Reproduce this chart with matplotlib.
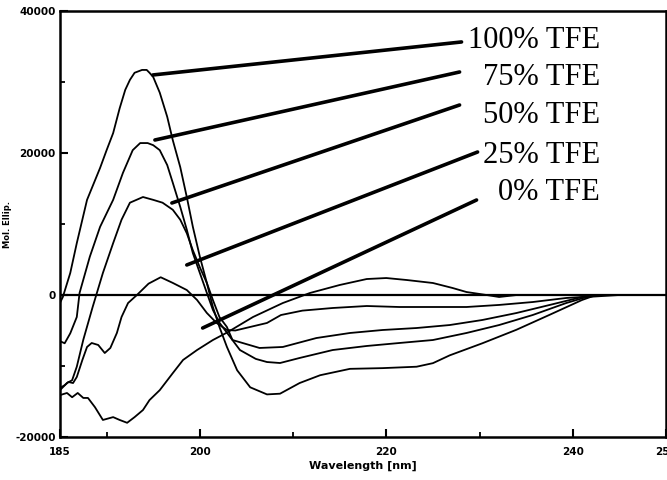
import numpy as np
import matplotlib
matplotlib.use('Agg')
import matplotlib.pyplot as plt
from matplotlib.ticker import FixedLocator

# CD spectra (wavelength in nm, ellipticity)
wl_100 = [185.0, 185.3, 186.1, 186.8, 187.9, 189.3, 190.0, 190.7, 191.4, 192.0, 192.5, 193.0,
          193.8, 194.3, 194.6, 195.0, 195.7, 196.5, 197.1, 197.9, 198.6, 199.25, 200.0, 200.75,
          201.4, 202.1, 202.9, 204.0, 205.4, 207.2, 208.6, 210.7, 212.9, 216.1, 219.6, 223.25,
          225.0, 226.8, 230.3, 233.95, 237.5, 241.0, 242.5, 245.0, 250.0]
cd_100 = [-1100, -300, 3100, 7300, 13400, 17900, 20400, 22800, 26300, 28900, 30300, 31300,
          31700, 31700, 31300, 30700, 28500, 25100, 21800, 18000, 13800, 9600, 5400, 1700,
          -1700, -4500, -7300, -10600, -13000, -14000, -13900, -12400, -11300, -10400, -10300, -10100,
          -9600, -8500, -6800, -4900, -2800, -700, 0, 0, 0]

wl_75 = [185.0, 185.5, 186.1, 186.8, 187.1, 188.2, 189.3, 190.7, 191.75, 192.8, 193.6, 194.4,
         195.0, 195.7, 196.5, 197.1, 197.9, 198.6, 199.25, 200.0, 200.75, 201.4, 202.1, 204.3,
         206.0, 207.2, 208.6, 210.7, 214.25, 217.9, 221.4, 225.0, 228.6, 232.1, 235.7, 239.3,
         241.5, 245.0, 250.0]
cd_75 = [-6500, -6800, -5400, -3100, 300, 5400, 9600, 13400, 17200, 20400, 21400, 21400,
         21100, 20400, 18300, 15800, 12400, 9200, 5900, 3100, 300, -2100, -3900, -7750,
         -9000, -9440, -9580, -8870, -7750, -7180, -6760, -6340, -5350, -4230, -2820, -1130,
         -280, 0, 0]

wl_50 = [185.0, 185.75, 186.3, 186.8, 187.5, 188.5, 189.6, 190.7, 191.6, 192.5, 193.9, 195.0,
         196.0, 197.1, 197.9, 198.6, 199.25, 200.0, 200.75, 201.4, 202.1, 202.9, 203.5, 206.4,
         208.9, 212.5, 216.1, 219.6, 223.25, 226.8, 230.3, 233.95, 237.5, 241.0, 243.0, 250.0]
cd_50 = [-13400, -12400, -12000, -10100, -6300, -1700, 3100, 7300, 10600, 13000, 13800, 13400,
         13000, 12000, 10600, 8700, 6300, 3900, 1700, -700, -3100, -4500, -6340, -7460,
         -7320, -6060, -5350, -4930, -4650, -4230, -3520, -2540, -1410, -280, 0, 0]

wl_25 = [185.0, 185.5, 185.9, 186.4, 186.8, 187.4, 187.9, 188.4, 189.1, 189.8, 190.4, 191.1,
         191.6, 192.3, 193.25, 194.5, 195.8, 197.1, 198.6, 199.7, 200.75, 201.8, 202.9, 203.8,
         205.4, 207.2, 208.7, 211.0, 214.25, 217.9, 221.4, 225.0, 228.6, 232.1, 235.7, 239.3,
         241.0, 243.0, 250.0]
cd_25 = [-13100, -12700, -12250, -12400, -11550, -9150, -7320, -6760, -7040, -8170, -7460, -5350,
         -3100, -1130, 0, 1600, 2500, 1700, 700, -700, -2530, -3940, -4930, -5000,
         -4500, -3940, -2820, -2200, -1830, -1550, -1690, -1690, -1690, -1400, -990, -420,
         -280, 0, 0]

wl_0 = [185.0, 185.75, 186.3, 186.9, 187.5, 188.0, 188.75, 189.6, 190.7, 191.4, 192.2, 193.0,
        193.9, 194.6, 195.7, 197.1, 198.2, 199.7, 201.4, 202.9, 205.7, 208.9, 211.8, 215.0,
        217.9, 220.0, 222.2, 225.0, 227.1, 228.6, 230.75, 232.1, 234.0, 250.0]
cd_0 = [-14100, -13800, -14400, -13800, -14500, -14500, -15800, -17600, -17200, -17600, -18000, -17200,
        -16200, -14800, -13400, -11000, -9150, -7750, -6340, -5300, -3100, -1130, 280, 1410,
        2250, 2390, 2110, 1690, 990, 420, 0, -280, 0, 0]

labels = ['100% TFE', '75% TFE', '50% TFE', '25% TFE', '0% TFE']
label_y = [34800, 29600, 24200, 18600, 13400]
# pointer lines: tip on the curve, tail next to the label
tip_x = [194.96, 195.18, 197.0, 198.6, 200.3]
tip_y = [30990, 21830, 12960, 4230, -4650]
tail_x = [228.07, 227.86, 227.86, 229.79, 229.68]
tail_y = [35640, 31410, 26760, 20140, 13380]

fig = plt.figure(figsize=(6.67, 4.8), dpi=100)
ax = fig.add_axes([60/667, 43/480, 606/667, 426/480])

for wl, cd in [(wl_100, cd_100), (wl_75, cd_75), (wl_50, cd_50), (wl_25, cd_25), (wl_0, cd_0)]:
    ax.plot(wl, cd, color='black', lw=1.3)

ax.axhline(0, color='black', lw=1.6)

for i in range(len(labels)):
    ax.annotate('', xy=(tip_x[i], tip_y[i]), xytext=(tail_x[i], tail_y[i]),
                arrowprops=dict(arrowstyle='-', lw=2.6, color='black', shrinkA=0, shrinkB=0))
    ax.text(242.9, label_y[i], labels[i], ha='right', va='baseline',
            fontsize=22, family='Liberation Serif', color='black')

ax.set_xlim(185, 250)
ax.set_ylim(-20000, 40000)
ax.set_xticks([185, 200, 220, 240, 250])
ax.set_xticklabels(['185', '200', '220', '240', '250'])
ax.xaxis.set_minor_locator(FixedLocator([190, 210, 230]))
ax.set_yticks([-20000, 0, 20000, 40000])
ax.set_yticklabels(['-20000', '0', '20000', '40000'])
ax.yaxis.set_minor_locator(FixedLocator([-10000, 10000, 30000]))

ax.tick_params(which='major', direction='in', length=6, width=1.5, labelsize=7.5)
ax.tick_params(axis='x', which='major', pad=7)
ax.tick_params(axis='y', which='major', pad=3)
ax.tick_params(which='minor', direction='in', length=3.5, width=1.3)
for lab in ax.get_xticklabels() + ax.get_yticklabels():
    lab.set_fontweight('bold')

for s in ax.spines.values():
    s.set_linewidth(1.8)

ax.set_xlabel('Wavelength [nm]', fontsize=8, fontweight='bold', labelpad=3)
fig.text(8/667, 1 - 225/480, 'Mol. Ellip.', rotation=90, ha='center', va='center',
         fontsize=6, fontweight='bold')

plt.savefig('out.png', dpi=100)
